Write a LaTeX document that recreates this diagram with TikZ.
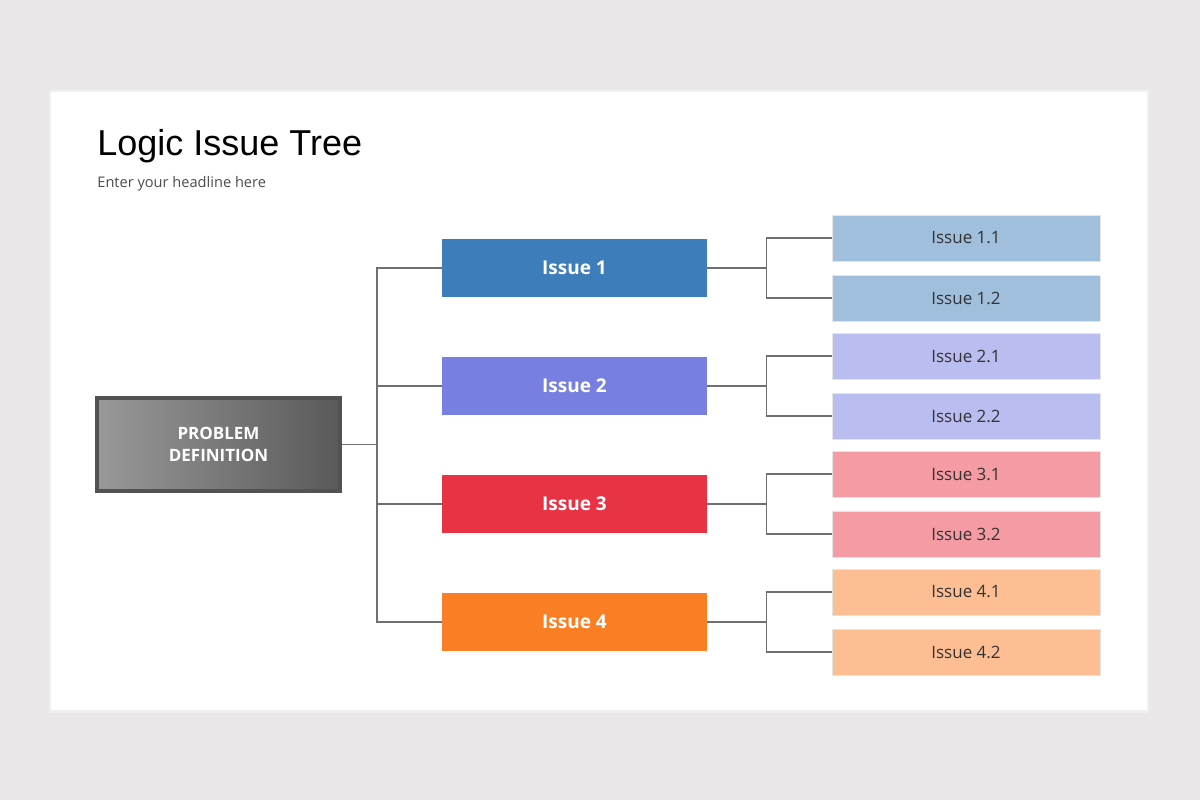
\documentclass[tikz,border=0pt]{standalone}
\usepackage{fontspec}
\setmainfont{Liberation Sans}
\newfontfamily\rob{Open Sans}
\usetikzlibrary{calc}
\definecolor{bg}{HTML}{E9E7E8}
\definecolor{lnc}{HTML}{707070}
\definecolor{ia}{HTML}{3D7DBA}\definecolor{ib}{HTML}{7780E0}\definecolor{ic}{HTML}{E83344}\definecolor{id}{HTML}{FA7F24}
\definecolor{la}{HTML}{A0BFDD}\definecolor{lb}{HTML}{B9BDEF}\definecolor{lc}{HTML}{F49BA3}\definecolor{ld}{HTML}{FCBE92}
\begin{document}
\begin{tikzpicture}[x=0.5pt,y=-0.5pt,
  issue/.style={minimum width=132.5pt,minimum height=29pt,inner sep=0pt,text=white,font=\rob\fontsize{9.5}{11}\selectfont\bfseries},
  leaf/.style={minimum width=134pt,minimum height=23pt,inner sep=0pt,text=black!80,font=\rob\fontsize{8.5}{10}\selectfont,draw=white!80!gray,line width=0.4pt},
  conn/.style={draw=lnc,line width=0.7pt}]
\fill[bg] (0,0) rectangle (1200,800);
\fill[black!6] (49,90) rectangle (1149,713);
\fill[white] (51,92) rectangle (1147,710);
\node[anchor=base west,inner sep=0pt,font=\fontsize{18}{20}\selectfont] (title) at (97,155) {Logic Issue Tree};
\node[anchor=base west,inner sep=0pt,text=black!70,font=\rob\fontsize{7.3}{9}\selectfont] (sub) at (97,187) {Enter your headline here};
\node[minimum width=121.5pt,minimum height=46.5pt,inner sep=0pt,draw=black!68,line width=2pt,
  left color=black!40,right color=black!65,text=white,align=center,
  font=\rob\fontsize{8.5}{11}\selectfont\bfseries] (p) at (218.5,444.5) {PROBLEM\\DEFINITION};
\coordinate (t) at (377,444.5);
\foreach \n/\y/\c in {1/268/ia,2/386/ib,3/504/ic,4/622/id}{
  \node[issue,fill=\c] (i\n) at (574.5,\y) {Issue \n};
}
\foreach \n/\y/\c in {1/238/la,2/356/lb,3/474/lc,4/592/ld}{
  \node[leaf,fill=\c] (l\n a) at (966,\y) {Issue \n.1};
  \node[leaf,fill=\c] (l\n b) at (966,\y+60) {Issue \n.2};
}
\draw[conn] (p.east) -- (t);
\draw[conn] (i1.west) -| (t) |- (i4.west);
\draw[conn] (t) |- (i2.west);
\draw[conn] (t) |- (i3.west);
\foreach \n in {1,2,3,4}{
  \coordinate (j\n) at ($(i\n.east)+(59,0)$);
  \draw[conn] (i\n.east) -- (j\n);
  \draw[conn] (l\n a.west) -| (j\n) |- (l\n b.west);
}
\end{tikzpicture}
\end{document}
